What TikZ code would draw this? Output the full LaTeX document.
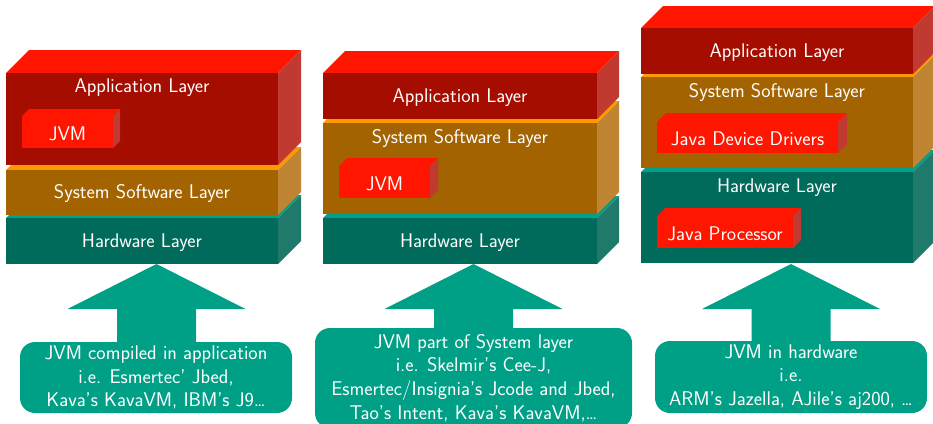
\documentclass[tikz,border=0pt]{standalone}
\usepackage{tikz}

% layer colours
\definecolor{appfront}{RGB}{165,13,0}
\definecolor{apptop}{RGB}{255,21,0}
\definecolor{appside}{RGB}{192,58,50}
\definecolor{sysfront}{RGB}{163,99,0}
\definecolor{systop}{RGB}{255,153,0}
\definecolor{sysside}{RGB}{192,133,51}
\definecolor{hwfront}{RGB}{0,107,90}
\definecolor{hwtop}{RGB}{0,160,138}
\definecolor{hwside}{RGB}{31,122,108}
\definecolor{calloutfill}{RGB}{0,160,135}
\definecolor{chipfront}{RGB}{255,21,0}
\definecolor{chipside}{RGB}{192,58,50}

% a 3D slab: #1 left x, #2 front top y, #3 right x, #4 front bottom y,
% #5 depth, #6 front colour, #7 top colour, #8 side colour
\newcommand{\drawslab}[8]{%
  \fill[#7] (#1,#2) -- ({#1+#5},{#2-#5}) -- ({#3+#5},{#2-#5}) -- (#3,#2) -- cycle;
  \fill[#8] (#3,#2) -- ({#3+#5},{#2-#5}) -- ({#3+#5},{#4-#5}) -- (#3,#4) -- cycle;
  \fill[#6] (#1,#2) rectangle (#3,#4);
}

% block arrow pointing up at a stack: #1 centre x
\newcommand{\drawblockarrow}[1]{%
  \fill[calloutfill] (#1,264) -- ({#1+89},309) -- ({#1+39.5},309) -- ({#1+39.5},350)
    -- ({#1-39.5},350) -- ({#1-39.5},309) -- ({#1-89},309) -- cycle;
}

\tikzset{
  lbl/.style={text=white, font=\sffamily\fontsize{19.8}{23}\selectfont, inner sep=0pt, yshift=-1.5pt},
  callout/.style={fill=calloutfill, rounded corners=15pt, text=white, align=center,
    font=\sffamily\fontsize{19.8}{23.7}\selectfont, inner sep=0pt},
}

\begin{document}
\begin{tikzpicture}[x=1pt, y=-1pt]
\useasboundingbox (0,0) rectangle (933,423);

% ---------- stack 1: JVM inside the application ----------
\drawslab{6}{218}{278}{264}{23}{hwfront}{hwtop}{hwside}
\drawslab{6}{170}{278}{215}{23}{sysfront}{systop}{sysside}
\drawslab{6}{73}{278}{165}{23}{appfront}{apptop}{appside}
\drawslab{22}{116}{113}{148}{7}{chipfront}{chipfront}{chipside}
\node[lbl] (s1app) at (142,86) {Application Layer};
\node[lbl] (s1jvm) at (67.5,132) {JVM};
\node[lbl] (s1sys) at (142,192) {System Software Layer};
\node[lbl] (s1hw)  at (142,241) {Hardware Layer};

% ---------- stack 2: JVM inside the system layer ----------
\drawslab{323}{218}{597}{264}{22}{hwfront}{hwtop}{hwside}
\drawslab{323}{123}{597}{214}{22}{sysfront}{systop}{sysside}
\drawslab{323}{73}{597}{119}{22}{appfront}{apptop}{appside}
\drawslab{339}{166}{430}{198}{8}{chipfront}{chipfront}{chipside}
\node[lbl] (s2app) at (460,96) {Application Layer};
\node[lbl] (s2sys) at (460,137) {System Software Layer};
\node[lbl] (s2jvm) at (384.5,182) {JVM};
\node[lbl] (s2hw)  at (460,241) {Hardware Layer};

% ---------- stack 3: JVM in hardware ----------
\drawslab{641}{172}{913}{263}{22}{hwfront}{hwtop}{hwside}
\drawslab{641}{77}{913}{168}{22}{sysfront}{systop}{sysside}
\drawslab{641}{28}{913}{74}{22}{appfront}{apptop}{appside}
\drawslab{657}{122}{838}{153}{9}{chipfront}{chipfront}{chipside}
\drawslab{657}{216}{793}{248}{8}{chipfront}{chipfront}{chipside}
\node[lbl] (s3app) at (777,51) {Application Layer};
\node[lbl] (s3sys) at (777,91) {System Software Layer};
\node[lbl] (s3jdd) at (747.5,137.5) {Java Device Drivers};
\node[lbl] (s3hw)  at (777,186) {Hardware Layer};
\node[lbl] (s3jp)  at (725,232) {Java Processor};

% ---------- arrows and callouts ----------
\drawblockarrow{156.5}
\drawblockarrow{473.5}
\drawblockarrow{791}

\node[callout, minimum width=272pt, minimum height=71pt] (c1) at (156,377.5)
  {JVM compiled in application\\ i.e. Esmertec' Jbed,\\ Kava's KavaVM, IBM's J9\dots};
\node[callout, minimum width=317pt, minimum height=100pt] (c2) at (473.5,378)
  {JVM part of System layer\\ i.e. Skelmir's Cee-J,\\ Esmertec/Insignia's Jcode and Jbed,\\ Tao's Intent, Kava's KavaVM,\dots};
\node[callout, minimum width=272pt, minimum height=72pt] (c3) at (791,377)
  {JVM in hardware\\ i.e.\\ ARM's Jazella, AJile's aj200, \dots};
\end{tikzpicture}
\end{document}
